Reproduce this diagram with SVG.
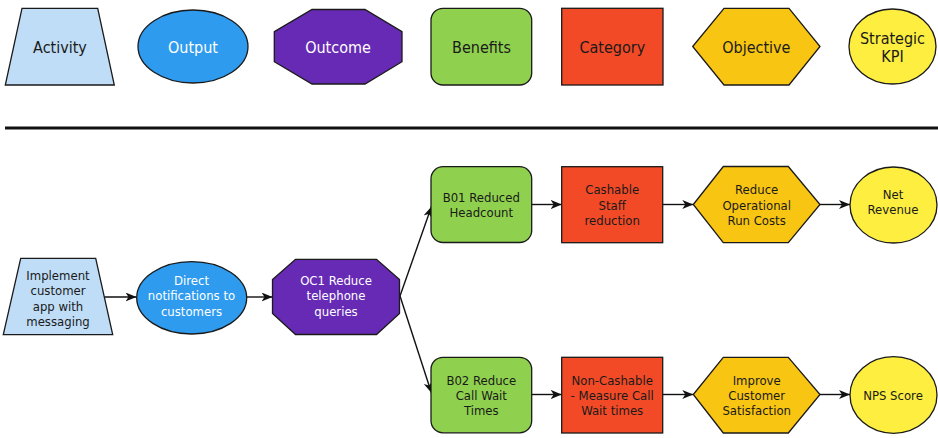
<svg xmlns="http://www.w3.org/2000/svg" width="938" height="438" viewBox="0 0 938 438">
<style>
text{font-family:"DejaVu Sans Condensed","DejaVu Sans",sans-serif;text-anchor:middle;fill:#1a1a1a}
.lg{font-size:16px}
.fl{font-size:13px}
.w{fill:#ffffff}
.sh{stroke:#1a1a1a;stroke-width:1.3}
.act{fill:#bfddf7}
.out{fill:#2e9bef}
.oc{fill:#672ab4}
.ben{fill:#8fd14f}
.cat{fill:#f24a27}
.obj{fill:#f9c513}
.kpi{fill:#fdee3f}
.con{stroke:#111;stroke-width:1.4;fill:none;marker-end:url(#arr)}
</style>
<defs>
<marker id="arr" markerUnits="userSpaceOnUse" markerWidth="12" markerHeight="10" refX="11" refY="4.5" orient="auto">
<path d="M0,0 L11,4.5 L0,9 L3,4.5 Z" fill="#111"/>
</marker>
</defs>
<rect width="938" height="438" fill="#ffffff"/>

<g id="legend">
<g id="lg-activity"><polygon class="sh act" points="22,8.3 97.7,8.3 114.3,85 5.3,85"/><text class="lg" x="60" y="52.5">Activity</text></g>
<g id="lg-output"><ellipse class="sh out" cx="193" cy="46.5" rx="55" ry="36.5"/><text class="lg w" x="193" y="52.5">Output</text></g>
<g id="lg-outcome"><polygon class="sh oc" points="312,9.5 365,9.5 402,31.7 402,61.7 365,84 312,84 274.3,61.7 274.3,31.7"/><text class="lg w" x="338" y="52.5">Outcome</text></g>
<g id="lg-benefits"><rect class="sh ben" x="431" y="8.3" width="100.7" height="76.7" rx="12"/><text class="lg" x="481.5" y="52.5">Benefits</text></g>
<g id="lg-category"><rect class="sh cat" x="561.7" y="8.3" width="101.3" height="76.7"/><text class="lg" x="612.3" y="52.5">Category</text></g>
<g id="lg-objective"><polygon class="sh obj" points="692.7,46.5 724,8.3 789,8.3 820,46.5 789,85 724,85"/><text class="lg" x="756.3" y="52.5">Objective</text></g>
<g id="lg-kpi"><ellipse class="sh kpi" cx="892.5" cy="46.5" rx="43.5" ry="37.5"/><text class="lg" x="892.5" y="44">Strategic</text><text class="lg" x="892.5" y="62">KPI</text></g>
</g>

<line x1="5" y1="128" x2="938" y2="128" stroke="#111" stroke-width="3"/>

<g id="connectors">
<line class="con" x1="104.3" y1="297" x2="136.5" y2="297"/>
<line class="con" x1="246.7" y1="297" x2="272.5" y2="297"/>
<line class="con" x1="400" y1="296" x2="431.5" y2="206.5"/>
<line class="con" x1="400" y1="296" x2="431.5" y2="393"/>
<line class="con" x1="531.7" y1="204.5" x2="561.7" y2="204.5"/>
<line class="con" x1="662.7" y1="204.5" x2="693.3" y2="204.5"/>
<line class="con" x1="820" y1="204.5" x2="850" y2="204.5"/>
<line class="con" x1="531.7" y1="394.5" x2="561.7" y2="394.5"/>
<line class="con" x1="662.7" y1="394.5" x2="693.3" y2="394.5"/>
<line class="con" x1="820" y1="394.5" x2="850" y2="394.5"/>
</g>

<g id="n-activity"><polygon class="sh act" points="20.7,258.3 95.7,258.3 112.7,334.7 3.3,334.7"/>
<text class="fl" x="58" y="280">Implement</text><text class="fl" x="58" y="295.3">customer</text><text class="fl" x="58" y="310.6">app with</text><text class="fl" x="58" y="325.9">messaging</text></g>

<g id="n-output"><ellipse class="sh out" cx="191.7" cy="297.8" rx="55" ry="36.2"/>
<text class="fl w" x="191.5" y="285">Direct</text><text class="fl w" x="191.5" y="300.3">notifications to</text><text class="fl w" x="191.5" y="315.6">customers</text></g>

<g id="n-outcome"><polygon class="sh oc" points="295.5,259.3 376.5,259.3 399.5,279.5 399.5,313.5 376.5,334.5 295.5,334.5 272.5,313.5 272.5,279.5"/>
<text class="fl w" x="336" y="285">OC1 Reduce</text><text class="fl w" x="336" y="300.3">telephone</text><text class="fl w" x="336" y="315.6">queries</text></g>

<g id="n-b01"><rect class="sh ben" x="431" y="166.7" width="100.7" height="75.8" rx="12"/>
<text class="fl" x="481.3" y="202">B01 Reduced</text><text class="fl" x="481.3" y="217.3">Headcount</text></g>

<g id="n-cat1"><rect class="sh cat" x="561.7" y="166.7" width="101" height="76"/>
<text class="fl" x="612.2" y="194.3">Cashable</text><text class="fl" x="612.2" y="209.6">Staff</text><text class="fl" x="612.2" y="224.9">reduction</text></g>

<g id="n-obj1"><polygon class="sh obj" points="693.3,204.5 723.3,166.5 788.3,166.5 820,204.5 788.3,242.7 723.3,242.7"/>
<text class="fl" x="756.7" y="194.3">Reduce</text><text class="fl" x="756.7" y="209.6">Operational</text><text class="fl" x="756.7" y="224.9">Run Costs</text></g>

<g id="n-kpi1"><ellipse class="sh kpi" cx="893.5" cy="205" rx="43.5" ry="38"/>
<text class="fl" x="893" y="199">Net</text><text class="fl" x="893" y="214.3">Revenue</text></g>

<g id="n-b02"><rect class="sh ben" x="431" y="357.3" width="100.7" height="75.5" rx="12"/>
<text class="fl" x="481.3" y="384.5">B02 Reduce</text><text class="fl" x="481.3" y="399.8">Call Wait</text><text class="fl" x="481.3" y="415.1">Times</text></g>

<g id="n-cat2"><rect class="sh cat" x="561.7" y="357.3" width="101" height="75.7"/>
<text class="fl" x="612.2" y="384.5">Non-Cashable</text><text class="fl" x="612.2" y="399.8">- Measure Call</text><text class="fl" x="612.2" y="415.1">Wait times</text></g>

<g id="n-obj2"><polygon class="sh obj" points="693.3,394.5 723.3,357.3 788.3,357.3 820,394.5 788.3,433 723.3,433"/>
<text class="fl" x="756.7" y="384.5">Improve</text><text class="fl" x="756.7" y="399.8">Customer</text><text class="fl" x="756.7" y="415.1">Satisfaction</text></g>

<g id="n-kpi2"><ellipse class="sh kpi" cx="893.5" cy="395" rx="43.5" ry="38.3"/>
<text class="fl" x="893" y="399.5">NPS Score</text></g>
</svg>
